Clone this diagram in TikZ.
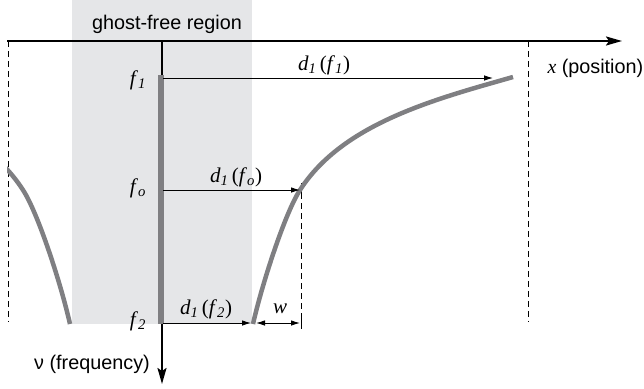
\documentclass[tikz,border=0pt]{standalone}
\usepackage{fontspec}
\setmainfont{Liberation Sans}
\newfontfamily\lblserif{Liberation Serif}
\usetikzlibrary{arrows.meta}

\definecolor{bandgray}{HTML}{E5E6E8}
\definecolor{curvegray}{HTML}{7F7F82}

\newcommand{\fsub}[1]{\textit{f}\textsubscript{\textit{#1}}}
\newcommand{\dist}[1]{\textit{d}\textsubscript{\textit{1}}\,(\fsub{#1})}

\tikzset{
  axis/.style={line width=2pt, -{Stealth[length=16pt,width=9pt,inset=3pt]}},
  curve/.style={draw=curvegray, line width=4.5pt},
  guide/.style={dash pattern=on 6pt off 4pt, line width=0.9pt},
  dist/.style={line width=0.9pt, -{Latex[length=9pt,width=5.5pt]}},
  sanslbl/.style={font=\fontsize{19.8}{22}\selectfont},
  itlbl/.style={font=\fontsize{21}{22}\selectfont\lblserif},
}

\begin{document}
\begin{tikzpicture}[x=1pt,y=-1pt]
\useasboundingbox (0,0) rectangle (644,388);
% band
\fill[bandgray] (72,0) rectangle (252,324);
% guides
\coordinate (gl0) at (8,41);
\coordinate (gl1) at (8,322);
\coordinate (gr0) at (528,41);
\coordinate (gr1) at (528,322);
\coordinate (gm0) at (301,183);
\coordinate (gm1) at (301,328);
\draw[guide] (gl0) -- (gl1);
\draw[guide] (gr0) -- (gr1);
\draw[guide] (gm0) -- (gm1);
\draw[line width=0.9pt] (301,183) -- (301,197);
\draw[line width=0.9pt] (301,317) -- (301,329);
% axes
\coordinate (xstart) at (7,41);
\coordinate (xend) at (622,41);
\coordinate (origin) at (162,41);
\coordinate (vend) at (162,384);
\draw[axis] (xstart) -- (xend);
\draw[axis] (origin) -- (vend);
% frequency band
\coordinate (fa) at (161,75);
\coordinate (fb) at (161,324);
\draw[curvegray, line width=6pt] (fa) -- (fb);
% curves
\draw[curve] (253,324) .. controls (262,284) and (285,213) .. (300,190)
  .. controls (343,123) and (436,99) .. (513,77);
\begin{scope}
  \clip (7,100) rectangle (150,330);
  \draw[curve] (70,324) .. controls (61,284) and (38,213) .. (23,190)
    .. controls (-20,123) and (-113,99) .. (-190,77);
\end{scope}
% distances
\coordinate (a1) at (163,78);
\coordinate (b1) at (493,78);
\coordinate (a0) at (163,190);
\coordinate (b0) at (300,190);
\coordinate (a2) at (163,323);
\coordinate (b2) at (251,323);
\coordinate (wl) at (256,323);
\coordinate (wr) at (300,323);
\draw[dist] (a1) -- (b1);
\draw[dist] (a0) -- (b0);
\draw[dist] (a2) -- (b2);
\draw[dist, {Latex[length=9pt,width=5.5pt]}-{Latex[length=9pt,width=5.5pt]}] (wl) -- (wr);
% labels
\node[sanslbl] (ghost) at (167,24) {ghost-free region};
\node[sanslbl, anchor=west] (xlbl) at (544,68) {{\lblserif\itshape x} (position)};
\node[sanslbl] (nulbl) at (92,364) {ν (frequency)};
\node[itlbl] (f1) at (138,80) {\fsub{1}};
\node[itlbl] (fo) at (138,188) {\fsub{o}};
\node[itlbl] (f2) at (138,321) {\fsub{2}};
\node[itlbl] (d1) at (324,65) {\dist{1}};
\node[itlbl] (do) at (236,177) {\dist{o}};
\node[itlbl] (d2) at (206,309) {\dist{2}};
\node[itlbl] (wlbl) at (280,309) {\textit{w}};
\end{tikzpicture}
\end{document}
